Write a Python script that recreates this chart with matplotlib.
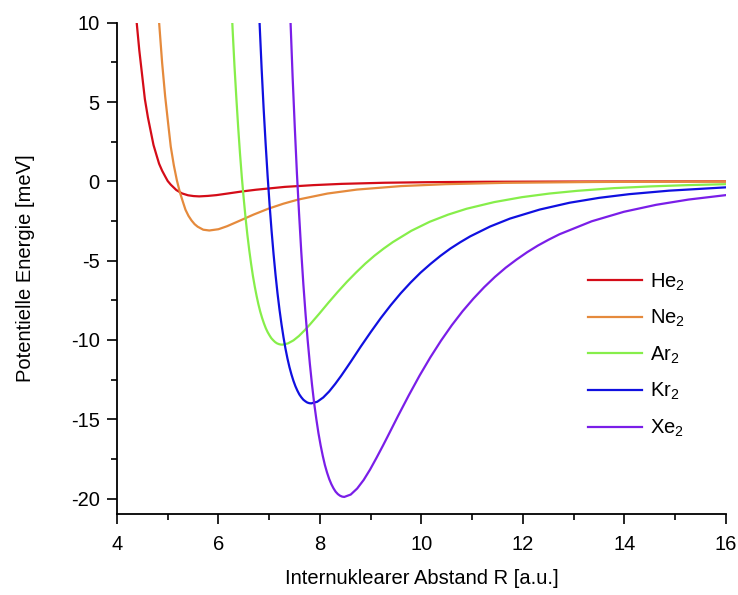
#!/usr/bin/env python3
"""Potential energy curves of the rare gas dimers He2 ... Xe2."""

import matplotlib
matplotlib.use("Agg")
import matplotlib.pyplot as plt
from matplotlib.ticker import MultipleLocator

# internuclear distance R [a.u.] and potential energy [meV]
he_r = [4.33, 4.38, 4.44, 4.50, 4.55, 4.61, 4.67, 4.72, 4.78, 4.83, 4.89, 4.95, 5.00, 5.06,
        5.17, 5.28, 5.40, 5.51, 5.62, 5.79, 5.96, 6.18, 6.46, 6.74, 7.31, 7.87, 8.43, 9.27,
        10.12, 11.24, 12.93, 14.61, 16.0]
he_e = [12.75, 10.30, 8.26, 6.58, 5.18, 4.03, 3.08, 2.29, 1.64, 1.11, 0.67, 0.31, 0.02, -0.21,
        -0.55, -0.76, -0.88, -0.93, -0.95, -0.92, -0.87, -0.77, -0.64, -0.53, -0.35, -0.24, -0.16, -0.09,
        -0.055, -0.029, -0.013, -0.006, -0.004]

ne_r = [4.77, 4.83, 4.89, 4.95, 5.01, 5.06, 5.12, 5.18, 5.24, 5.30, 5.35, 5.41, 5.47, 5.53,
        5.59, 5.70, 5.82, 6.00, 6.17, 6.40, 6.69, 6.98, 7.28, 7.57, 8.15, 8.73, 9.60, 10.48,
        11.64, 13.39, 15.13, 16.0]
ne_e = [13.15, 10.04, 7.47, 5.35, 3.61, 2.19, 1.02, 0.07, -0.69, -1.30, -1.79, -2.18, -2.47, -2.70,
        -2.86, -3.05, -3.10, -3.02, -2.83, -2.51, -2.10, -1.73, -1.41, -1.15, -0.77, -0.52, -0.30, -0.18,
        -0.096, -0.042, -0.020, -0.014]

ar_r = [6.244, 6.280, 6.316, 6.353, 6.389, 6.425, 6.461, 6.498, 6.534, 6.570, 6.607, 6.643,
        6.679, 6.716, 6.752, 6.788, 6.824, 6.861, 6.897, 6.933, 6.970, 7.006, 7.042, 7.079,
        7.115, 7.151, 7.187, 7.224, 7.260, 7.369, 7.478, 7.587, 7.696, 7.805, 7.913, 7.986,
        8.168, 8.349, 8.531, 8.712, 8.894, 9.075, 9.257, 9.438, 9.801, 10.164, 10.527, 10.890,
        11.435, 11.979, 12.524, 13.068, 13.794, 14.520, 15.246, 16.0]
ar_e = [12.01, 9.52, 7.27, 5.24, 3.40, 1.74, 0.25, -1.09, -2.29, -3.37, -4.34, -5.19,
        -5.96, -6.64, -7.23, -7.76, -8.22, -8.62, -8.96, -9.26, -9.51, -9.71, -9.89, -10.02,
        -10.13, -10.21, -10.26, -10.29, -10.30, -10.22, -10.03, -9.75, -9.40, -9.02, -8.62, -8.35,
        -7.65, -6.98, -6.34, -5.75, -5.19, -4.69, -4.24, -3.83, -3.12, -2.55, -2.10, -1.73,
        -1.31, -1.00, -0.77, -0.60, -0.43, -0.32, -0.24, -0.18]

kr_r = [6.734, 6.812, 6.851, 6.890, 6.930, 6.969, 7.008, 7.047, 7.086, 7.125, 7.164, 7.204,
        7.243, 7.282, 7.321, 7.360, 7.399, 7.439, 7.478, 7.517, 7.556, 7.595, 7.634, 7.673,
        7.713, 7.752, 7.791, 7.830, 7.947, 8.065, 8.182, 8.300, 8.417, 8.535, 8.613, 8.809,
        9.005, 9.200, 9.396, 9.592, 9.788, 9.983, 10.179, 10.375, 10.571, 10.766, 10.962, 11.354,
        11.745, 12.332, 12.920, 13.507, 14.094, 14.877, 16.0]
kr_e = [16.32, 9.89, 7.11, 4.62, 2.37, 0.34, -1.48, -3.12, -4.58, -5.89, -7.06, -8.11,
        -9.02, -9.83, -10.55, -11.17, -11.71, -12.18, -12.58, -12.92, -13.20, -13.44, -13.62, -13.77,
        -13.87, -13.95, -13.99, -14.00, -13.90, -13.63, -13.25, -12.78, -12.27, -11.72, -11.35, -10.40,
        -9.49, -8.62, -7.81, -7.06, -6.38, -5.76, -5.21, -4.70, -4.24, -3.84, -3.47, -2.85,
        -2.35, -1.78, -1.35, -1.04, -0.81, -0.59, -0.38]

xe_r = [7.378, 7.420, 7.462, 7.505, 7.547, 7.590, 7.632, 7.674, 7.717, 7.759, 7.802, 7.844,
        7.886, 7.929, 7.971, 8.014, 8.056, 8.098, 8.141, 8.183, 8.226, 8.268, 8.310, 8.353,
        8.395, 8.438, 8.480, 8.607, 8.734, 8.862, 8.989, 9.116, 9.243, 9.328, 9.540, 9.752,
        9.964, 10.176, 10.388, 10.600, 10.812, 11.024, 11.236, 11.448, 11.660, 11.872, 12.084, 12.296,
        12.508, 12.720, 13.356, 13.992, 14.628, 15.264, 16.0]
xe_e = [14.05, 10.12, 6.57, 3.37, 0.48, -2.10, -4.43, -6.51, -8.38, -10.04, -11.52, -12.82,
        -13.98, -14.99, -15.88, -16.65, -17.31, -17.89, -18.37, -18.77, -19.10, -19.36, -19.57, -19.72,
        -19.82, -19.88, -19.90, -19.75, -19.37, -18.83, -18.17, -17.43, -16.66, -16.13, -14.79, -13.49,
        -12.25, -11.10, -10.04, -9.07, -8.19, -7.40, -6.68, -6.03, -5.45, -4.94, -4.47, -4.05,
        -3.68, -3.34, -2.52, -1.92, -1.48, -1.15, -0.87]

labels = ['He$_\\mathregular{2}$', 'Ne$_\\mathregular{2}$', 'Ar$_\\mathregular{2}$',
          'Kr$_\\mathregular{2}$', 'Xe$_\\mathregular{2}$']
colors = ['#d40c18', '#e58a3c', '#86ee4a', '#1010e0', '#7a1ee8']


def main():
    plt.rcParams['font.family'] = ['Liberation Sans', 'DejaVu Sans']
    plt.rcParams['axes.unicode_minus'] = False  # plain hyphen as in the original
    fig = plt.figure(figsize=(7.38, 5.95), dpi=100)
    ax = fig.add_axes([0.1585, 0.1355, 0.825, 0.8263])

    curves = [(he_r, he_e), (ne_r, ne_e), (ar_r, ar_e), (kr_r, kr_e), (xe_r, xe_e)]
    for (r, e), lab, col in zip(curves, labels, colors):
        ax.plot(r, e, color=col, lw=1.6, label=lab)

    ax.set_xlim(4, 16)
    ax.set_ylim(-21, 10)
    ax.xaxis.set_major_locator(MultipleLocator(2))
    ax.xaxis.set_minor_locator(MultipleLocator(1))
    ax.yaxis.set_major_locator(MultipleLocator(5))
    ax.yaxis.set_minor_locator(MultipleLocator(2.5))

    # only left and bottom axis lines, ticks pointing out
    for side in ['top', 'right']:
        ax.spines[side].set_visible(False)
    for side in ['left', 'bottom']:
        ax.spines[side].set_linewidth(1.3)
    ax.tick_params(which='major', direction='out', length=7.5, width=1.2, labelsize=14.5)
    ax.tick_params(which='minor', direction='out', length=4.5, width=1.2)
    ax.tick_params(axis='x', which='major', pad=7)
    ax.tick_params(axis='y', which='major', pad=5)

    ax.set_xlabel('Internuklearer Abstand R [a.u.]', fontsize=14.5, labelpad=11)
    ax.set_ylabel('Potentielle Energie [meV]', fontsize=14.5, labelpad=26)

    ax.legend(loc='center left', bbox_to_anchor=(0.773, 0.324), frameon=False, fontsize=14.5,
              handlelength=2.7, handletextpad=0.4, labelspacing=0.76, borderpad=0, borderaxespad=0)

    plt.savefig('out.png', dpi=100)


if __name__ == '__main__':
    main()
